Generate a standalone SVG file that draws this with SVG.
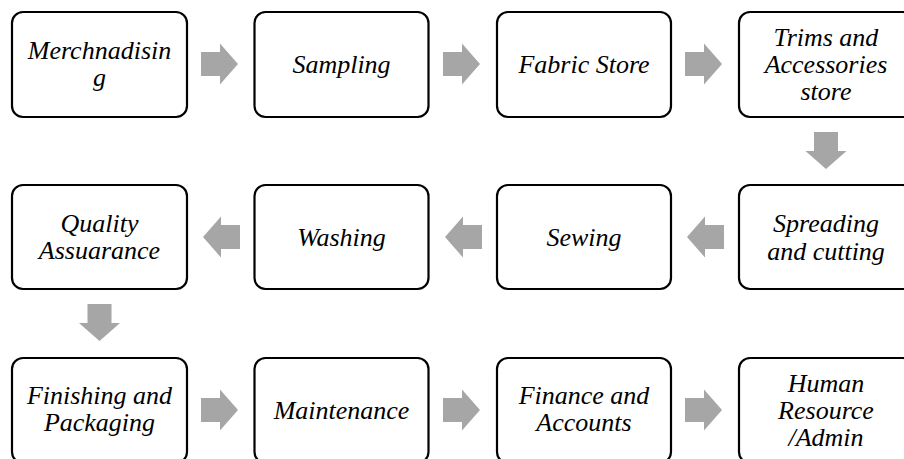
<svg xmlns="http://www.w3.org/2000/svg" width="904" height="459" viewBox="0 0 904 459">
  <defs>
    <!-- grey block arrow pointing right, origin at the tail centre -->
    <path id="blockArrow" d="M0,-12 H19 V-20.5 L37,0 L19,20.5 V12 H0 Z" fill="#a6a6a6"/>
  </defs>
  <rect width="904" height="459" fill="#ffffff"/>
  <g id="connectors">
    <use href="#blockArrow" transform="translate(201,64)"/>
    <use href="#blockArrow" transform="translate(443,64)"/>
    <use href="#blockArrow" transform="translate(685,64)"/>
    <use href="#blockArrow" transform="translate(826,132) rotate(90)"/>
    <use href="#blockArrow" transform="translate(724,237) rotate(180)"/>
    <use href="#blockArrow" transform="translate(482,237) rotate(180)"/>
    <use href="#blockArrow" transform="translate(240,237) rotate(180)"/>
    <use href="#blockArrow" transform="translate(99.5,304) rotate(90)"/>
    <use href="#blockArrow" transform="translate(201,410)"/>
    <use href="#blockArrow" transform="translate(443,410)"/>
    <use href="#blockArrow" transform="translate(685,410)"/>
  </g>
  <g id="merchandising">
    <rect x="12" y="12" width="175" height="105" rx="11" fill="#ffffff" stroke="#000000" stroke-width="2.2"/>
    <text x="99.5" y="58.5" font-family="Liberation Serif" font-style="italic" font-size="26" text-anchor="middle">Merchnadisin</text>
    <text x="99.5" y="86" font-family="Liberation Serif" font-style="italic" font-size="26" text-anchor="middle">g</text>
  </g>
  <g id="sampling">
    <rect x="254.5" y="12" width="174" height="105" rx="11" fill="#ffffff" stroke="#000000" stroke-width="2.2"/>
    <text x="341.5" y="73" font-family="Liberation Serif" font-style="italic" font-size="26" text-anchor="middle">Sampling</text>
  </g>
  <g id="fabric-store">
    <rect x="497" y="12" width="174" height="105" rx="11" fill="#ffffff" stroke="#000000" stroke-width="2.2"/>
    <text x="584" y="73" font-family="Liberation Serif" font-style="italic" font-size="26" text-anchor="middle">Fabric Store</text>
  </g>
  <g id="trims-store">
    <rect x="739" y="12" width="175" height="105" rx="11" fill="#ffffff" stroke="#000000" stroke-width="2.2"/>
    <text x="826" y="45.5" font-family="Liberation Serif" font-style="italic" font-size="26" text-anchor="middle">Trims and</text>
    <text x="826" y="72.5" font-family="Liberation Serif" font-style="italic" font-size="26" text-anchor="middle">Accessories</text>
    <text x="826" y="99.5" font-family="Liberation Serif" font-style="italic" font-size="26" text-anchor="middle">store</text>
  </g>
  <g id="spreading-cutting">
    <rect x="739" y="185" width="175" height="104" rx="11" fill="#ffffff" stroke="#000000" stroke-width="2.2"/>
    <text x="826" y="232" font-family="Liberation Serif" font-style="italic" font-size="26" text-anchor="middle">Spreading</text>
    <text x="826" y="260" font-family="Liberation Serif" font-style="italic" font-size="26" text-anchor="middle">and cutting</text>
  </g>
  <g id="sewing">
    <rect x="497" y="185" width="174" height="104" rx="11" fill="#ffffff" stroke="#000000" stroke-width="2.2"/>
    <text x="584" y="245.5" font-family="Liberation Serif" font-style="italic" font-size="26" text-anchor="middle">Sewing</text>
  </g>
  <g id="washing">
    <rect x="254.5" y="185" width="174" height="104" rx="11" fill="#ffffff" stroke="#000000" stroke-width="2.2"/>
    <text x="341.5" y="245.5" font-family="Liberation Serif" font-style="italic" font-size="26" text-anchor="middle">Washing</text>
  </g>
  <g id="quality-assurance">
    <rect x="12" y="185" width="175" height="104" rx="11" fill="#ffffff" stroke="#000000" stroke-width="2.2"/>
    <text x="99.5" y="232" font-family="Liberation Serif" font-style="italic" font-size="26" text-anchor="middle">Quality</text>
    <text x="99.5" y="259" font-family="Liberation Serif" font-style="italic" font-size="26" text-anchor="middle">Assuarance</text>
  </g>
  <g id="finishing-packaging">
    <rect x="12" y="358" width="175" height="105" rx="11" fill="#ffffff" stroke="#000000" stroke-width="2.2"/>
    <text x="99.5" y="404" font-family="Liberation Serif" font-style="italic" font-size="26" text-anchor="middle">Finishing and</text>
    <text x="99.5" y="431" font-family="Liberation Serif" font-style="italic" font-size="26" text-anchor="middle">Packaging</text>
  </g>
  <g id="maintenance">
    <rect x="254.5" y="358" width="174" height="105" rx="11" fill="#ffffff" stroke="#000000" stroke-width="2.2"/>
    <text x="341.5" y="419" font-family="Liberation Serif" font-style="italic" font-size="26" text-anchor="middle">Maintenance</text>
  </g>
  <g id="finance-accounts">
    <rect x="497" y="358" width="174" height="105" rx="11" fill="#ffffff" stroke="#000000" stroke-width="2.2"/>
    <text x="584" y="404" font-family="Liberation Serif" font-style="italic" font-size="26" text-anchor="middle">Finance and</text>
    <text x="584" y="431" font-family="Liberation Serif" font-style="italic" font-size="26" text-anchor="middle">Accounts</text>
  </g>
  <g id="human-resource">
    <rect x="739" y="358" width="175" height="105" rx="11" fill="#ffffff" stroke="#000000" stroke-width="2.2"/>
    <text x="826" y="391.5" font-family="Liberation Serif" font-style="italic" font-size="26" text-anchor="middle">Human</text>
    <text x="826" y="418.5" font-family="Liberation Serif" font-style="italic" font-size="26" text-anchor="middle">Resource</text>
    <text x="826" y="446" font-family="Liberation Serif" font-style="italic" font-size="26" text-anchor="middle">/Admin</text>
  </g>
</svg>
